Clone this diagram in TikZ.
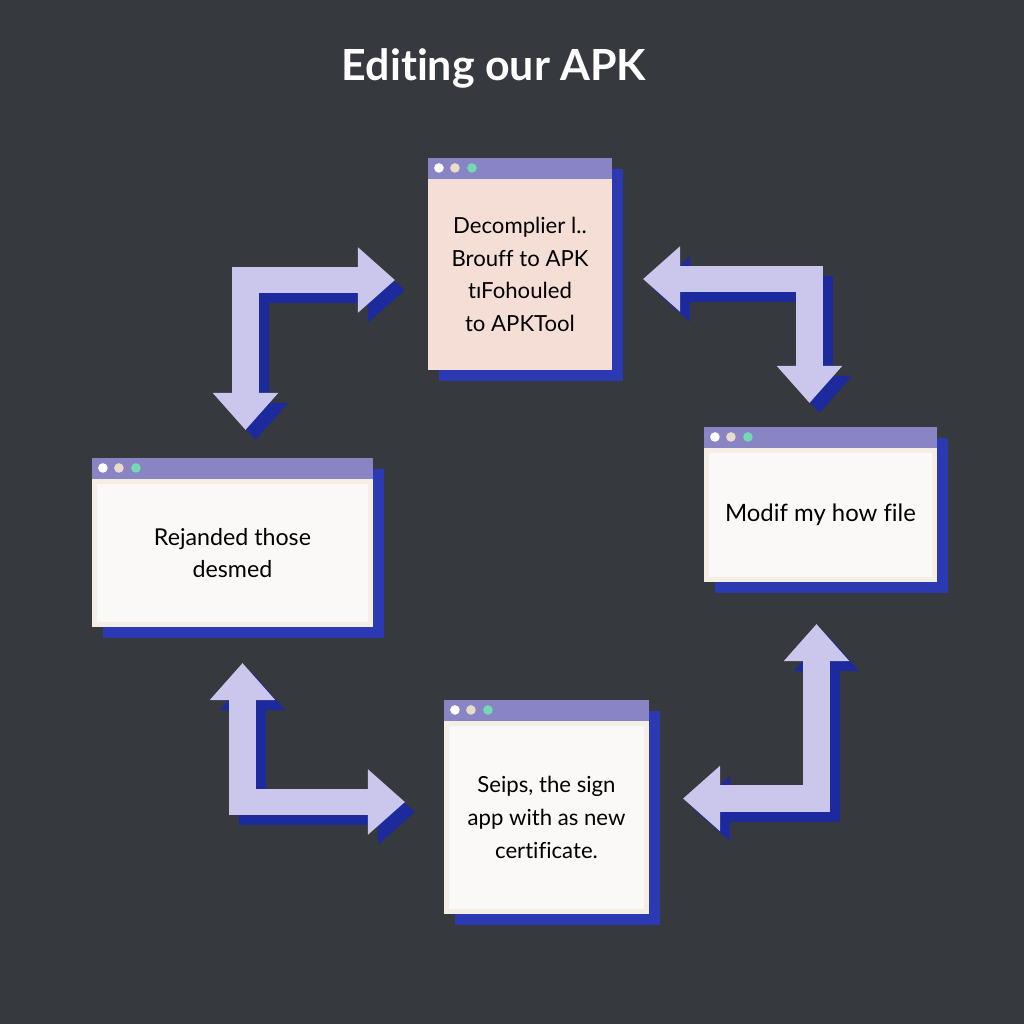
\documentclass[tikz,border=0pt]{standalone}
\usepackage{fontspec}
\setmainfont{Lato}[Ligatures=NoCommon]
\usetikzlibrary{arrows.meta,calc,backgrounds}

\definecolor{bgdark}{RGB}{54,57,62}
\definecolor{lav}{RGB}{203,199,236}
\definecolor{deepblue}{RGB}{28,42,158}
\definecolor{winblue}{RGB}{43,58,178}
\definecolor{barpurple}{RGB}{137,133,197}
\definecolor{winpink}{RGB}{245,222,213}
\definecolor{winwhite}{RGB}{250,249,247}
\definecolor{winedge}{RGB}{244,238,229}
\definecolor{dotbeige}{RGB}{233,220,203}
\definecolor{dotmint}{RGB}{114,217,178}

\tikzset{
  fat/.tip={Triangle[width=0.63cm,length=0.37cm]},
  winbody/.style={fill=winwhite, draw=winedge, line width=0.05cm, align=center,
    font=\fontsize{6.3}{9.3}\selectfont},
  arr/.style={draw=lav, line width=0.265cm, line join=miter, fat-fat},
  arrshadow/.style={arr, draw=deepblue, transform canvas={xshift=0.1cm, yshift=-0.1cm}},
}

\begin{document}
\begin{tikzpicture}[x=0.01cm, y=-0.01cm]
    \begin{scope}[on background layer]
        \fill[bgdark] (0,0) rectangle (1024,1024);
    \end{scope}
    \node[font=\fontsize{12.2}{15}\selectfont\bfseries, text=white] (title) at (494,68) {Editing our APK};

    % the four windows
    \node[winbody, fill=winpink, draw=winpink, minimum width=1.79cm, minimum height=1.86cm] (dec) at (520,274.5)
        {Decomplier l..\\Brouff to APK\\tıFohouled\\to APKTool};
    \node[winbody, minimum width=2.76cm, minimum height=1.43cm, font=\fontsize{6.6}{9}\selectfont] (rep) at (232.5,553)
        {Rejanded those\\desmed};
    \node[winbody, minimum width=2.28cm, minimum height=1.29cm, font=\fontsize{6.8}{9}\selectfont] (mod) at (820.5,515)
        {Modif my how file};
    \node[winbody, minimum width=2.00cm, minimum height=1.88cm] (sign) at (546.5,817.5)
        {Seips, the sign\\app with as new\\certificate.};

    \foreach \w in {dec,rep,mod,sign} {
        \fill[barpurple] ($(\w.north west)+(0,-21)$) rectangle (\w.north east);
        \fill[white] ($(\w.north west)+(11,-11)$) circle[radius=0.048cm];
        \fill[dotbeige] ($(\w.north west)+(27,-11)$) circle[radius=0.048cm];
        \fill[dotmint] ($(\w.north west)+(44,-11)$) circle[radius=0.048cm];
    }
    \begin{scope}[on background layer]
        \foreach \w in {dec,rep,mod,sign}
            \fill[winblue] ($(\w.north west)+(11,-10)$) rectangle ($(\w.south east)+(11,11)$);
    \end{scope}

    % arrows between the windows
    \coordinate (nwDown) at (245.5,430);  \coordinate (nwRight) at (395,280);
    \coordinate (neLeft) at (643,279);    \coordinate (neDown) at (809.5,403);
    \coordinate (swUp) at (242.5,663);    \coordinate (swRight) at (405,802);
    \coordinate (seLeft) at (683,798.5);  \coordinate (seUp) at (816.5,624);

    \draw[arrshadow] (nwDown) |- (nwRight);
    \draw[arr] (nwDown) |- (nwRight);
    \draw[arrshadow] (neLeft) -| (neDown);
    \draw[arr] (neLeft) -| (neDown);
    \draw[arrshadow] (swUp) |- (swRight);
    \draw[arr] (swUp) |- (swRight);
    \draw[arrshadow] (seLeft) -| (seUp);
    \draw[arr] (seLeft) -| (seUp);
\end{tikzpicture}
\end{document}
